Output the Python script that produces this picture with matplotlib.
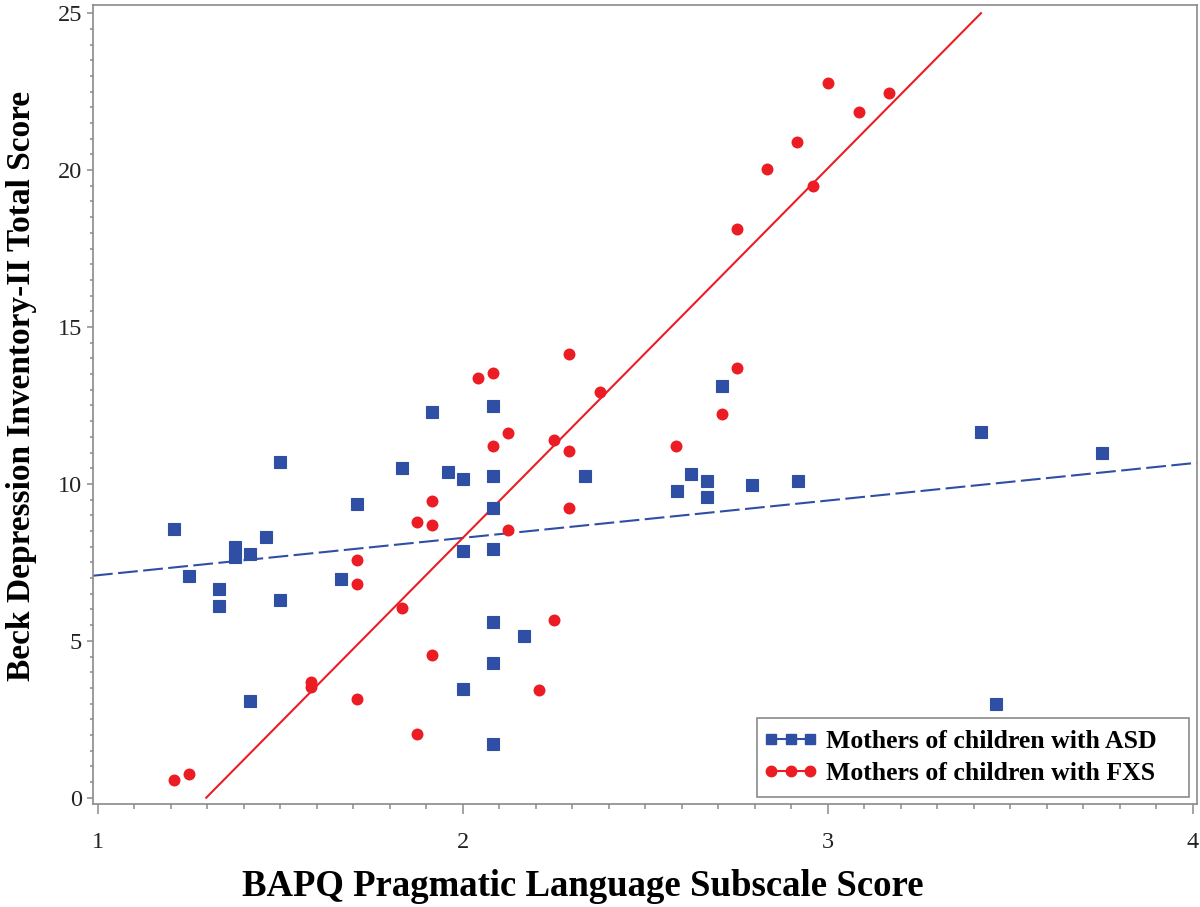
import numpy as np
import matplotlib
matplotlib.use("Agg")
import matplotlib.pyplot as plt
from matplotlib.ticker import MultipleLocator, FixedLocator
from matplotlib.lines import Line2D
from matplotlib.patches import Rectangle
from matplotlib.legend_handler import HandlerLine2D

# ---------------- data ----------------
asd_x = [1.210, 1.250, 1.333, 1.333, 1.376, 1.376, 1.417, 1.460, 1.417, 1.499,
         1.499, 1.666, 1.709, 1.833, 1.916, 1.960, 2.000, 2.000, 2.000, 2.084,
         2.084, 2.084, 2.084, 2.084, 2.084, 2.084, 2.167, 2.335, 2.586, 2.624,
         2.670, 2.670, 2.709, 2.793, 2.919, 3.419, 3.461, 3.752]
asd_y = [8.57, 7.07, 6.64, 6.10, 8.00, 7.68, 7.76, 8.31, 3.09, 10.69,
         6.29, 6.97, 9.35, 10.51, 12.30, 10.39, 10.16, 7.86, 3.45, 12.48,
         10.26, 9.24, 7.94, 5.59, 4.28, 1.70, 5.16, 10.26, 9.76, 10.32,
         10.10, 9.57, 13.13, 9.98, 10.10, 11.66, 3.00, 10.97]

fxs_x = [1.208, 1.250, 1.583, 1.583, 1.709, 1.709, 1.709, 1.833, 1.875, 1.875,
         1.916, 1.916, 1.916, 2.042, 2.084, 2.084, 2.125, 2.125, 2.209, 2.251,
         2.251, 2.292, 2.292, 2.292, 2.377, 2.585, 2.709, 2.751, 2.751, 2.834,
         2.916, 2.960, 3.001, 3.085, 3.167]
fxs_y = [0.58, 0.76, 3.69, 3.53, 7.57, 6.80, 3.16, 6.06, 8.79, 2.03,
         9.47, 8.70, 4.54, 13.37, 13.54, 11.21, 11.63, 8.53, 3.43, 11.39,
         5.66, 14.14, 11.04, 9.22, 12.93, 11.21, 12.23, 13.70, 18.12, 20.03,
         20.89, 19.49, 22.79, 21.84, 22.45]

# fitted lines (intercept, slope)
asd_fit = (5.90, 1.19)
fxs_fit = (-15.28, 11.78)

series_labels = ["Mothers of children with ASD", "Mothers of children with FXS"]
x_ticks = [1, 2, 3, 4]
y_ticks = [0, 5, 10, 15, 20, 25]
x_label = "BAPQ Pragmatic Language Subscale Score"
y_label = "Beck Depression Inventory-II Total Score"

# ---------------- style ----------------
BLUE = "#2F4FA5"
RED = "#EC1C24"
GRAY = "#8a8a8a"
SERIF = ["Liberation Serif", "DejaVu Serif"]

plt.rcParams["font.family"] = SERIF

W, H = 1200, 907
fig = plt.figure(figsize=(W / 100, H / 100), dpi=100)
left, right, top, bottom = 93, 1197, 5, 804
ax_w, ax_h = right - left, bottom - top
ax = fig.add_axes([left / W, 1 - bottom / H, ax_w / W, ax_h / H])

xlim = (0.987, 4.011)
ylim = (-0.2, 25.26)
ax.set_xlim(*xlim)
ax.set_ylim(*ylim)

# regression lines
xa = np.array(xlim)
ax.plot(xa, asd_fit[0] + asd_fit[1] * xa, color=BLUE, lw=1.5,
        linestyle=(0, (9.5, 2.6)), zorder=2)
xf = np.array([(0 - fxs_fit[0]) / fxs_fit[1], (25 - fxs_fit[0]) / fxs_fit[1]])
ax.plot(xf, fxs_fit[0] + fxs_fit[1] * xf, color=RED, lw=1.5, zorder=2)

# points
ax.plot(asd_x, asd_y, linestyle="none", marker="s", ms=8.2, color=BLUE,
        markeredgewidth=0.8, markeredgecolor=BLUE, zorder=3)
ax.plot(fxs_x, fxs_y, linestyle="none", marker="o", ms=8.6, color=RED,
        markeredgewidth=0, zorder=3)

# axes styling
for s in ax.spines.values():
    s.set_color(GRAY)
    s.set_linewidth(1.2)
ax.xaxis.set_major_locator(FixedLocator(x_ticks))
ax.yaxis.set_major_locator(FixedLocator(y_ticks))
ax.xaxis.set_minor_locator(MultipleLocator(0.1))
ax.yaxis.set_minor_locator(MultipleLocator(0.5))
ax.tick_params(axis="x", which="major", length=7.5, width=1.1, color=GRAY,
               labelsize=17.5, pad=13, labelcolor="#222222")
ax.tick_params(axis="x", which="minor", length=3.8, width=1.1, color=GRAY)
ax.tick_params(axis="y", which="major", length=4, width=1.1, color=GRAY,
               labelsize=17.5, pad=4, labelcolor="#222222")
ax.tick_params(axis="y", which="minor", length=2.4, width=1.1, color=GRAY)

fig.text(583 / W, 1 - 886 / H, x_label, ha="center", va="center",
         fontsize=26.5, fontweight="bold", color="black")
fig.text(22 / W, 1 - 386 / H, y_label, ha="center", va="center",
         rotation=90, fontsize=24, fontweight="bold", color="black")

# legend frame (pixel box 757..1189 x 718..797)
bx0, bx1, by0, by1 = 757, 1189, 718, 797
ax.add_patch(Rectangle(((bx0 - left) / ax_w, (bottom - by1) / ax_h),
                       (bx1 - bx0) / ax_w, (by1 - by0) / ax_h,
                       transform=ax.transAxes, facecolor="white",
                       edgecolor=GRAY, linewidth=1.2, zorder=4,
                       clip_on=False))

handles = [
    Line2D([], [], color=BLUE, marker="s", ms=7, lw=1.5, linestyle="-"),
    Line2D([], [], color=RED, marker="o", ms=7.5, lw=1.5, linestyle="-"),
]
leg = ax.legend(handles, series_labels, loc="center left",
                bbox_to_anchor=((771 - left) / ax_w, (bottom - (by0 + by1) / 2) / ax_h),
                borderaxespad=0, borderpad=0, frameon=False,
                numpoints=3, handlelength=1.52, handletextpad=0.62,
                handler_map={Line2D: HandlerLine2D(marker_pad=0)},
                prop={"family": SERIF, "weight": "bold", "size": 18.5},
                labelspacing=0.33)
leg.set_zorder(5)

fig.savefig("out.png", dpi=100)
